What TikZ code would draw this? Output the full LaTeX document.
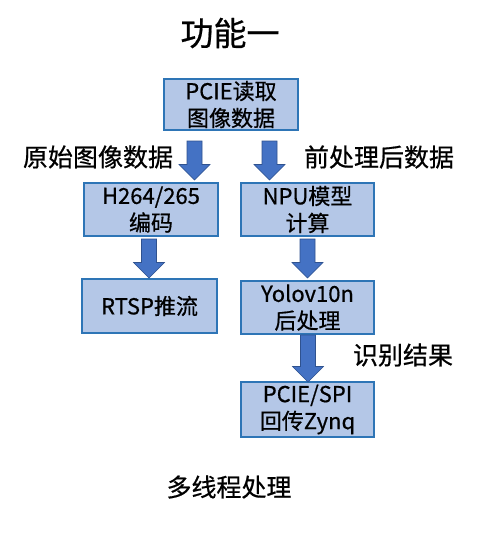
\documentclass[tikz,border=0pt]{standalone}
\usepackage{fontspec}
\setmainfont{Noto Sans CJK SC}[BoldFont=Noto Sans CJK SC, BoldFeatures={FakeBold=0.6}]
\definecolor{boxfill}{HTML}{B4C7E7}
\definecolor{boxline}{HTML}{2E75B6}
\definecolor{arrfill}{HTML}{4472C4}
\definecolor{arrline}{HTML}{2F528F}
\tikzset{
  procbox/.style={draw=boxline, line width=2.5pt, fill=boxfill, inner sep=0pt,
    align=center, font=\fontsize{22}{27}\selectfont\bfseries},
  lbl/.style={font=\fontsize{25}{30}\selectfont\bfseries, inner sep=0pt},
  barrow/.style={fill=arrfill, draw=arrline, line width=0.6pt, line join=miter}
}
\newcommand{\blockarr}[3]{% x, top y, tip y
  \draw[barrow] (#1-7.5,#2) -- (#1+7.5,#2) -- (#1+7.5,#3-15.5) -- (#1+15.5,#3-15.5)
    -- (#1,#3) -- (#1-15.5,#3-15.5) -- (#1-7.5,#3-15.5) -- cycle;}
\begin{document}
\begin{tikzpicture}[x=1pt,y=-1pt]
\useasboundingbox (0,0) rectangle (487,533);
\fill[white] (0,0) rectangle (487,533);

\node[font=\fontsize{33}{36}\selectfont\bfseries, inner sep=0pt] (title) at (230,33) {功能一};

\node[procbox, minimum width=134pt, minimum height=51pt] (pcie) at (231,104.5) {PCIE读取\\图像数据};
\node[procbox, minimum width=134pt, minimum height=53pt] (enc) at (151,209.5) {H264/265\\编码};
\node[procbox, minimum width=133pt, minimum height=53pt] (npu) at (307.5,209.5) {NPU模型\\计算};
\node[procbox, minimum width=135pt, minimum height=54pt] (rtsp) at (149.5,306) {RTSP推流};
\node[procbox, minimum width=133pt, minimum height=53pt] (yolo) at (307.5,307.5) {Yolov10n\\后处理};
\node[procbox, minimum width=133pt, minimum height=55pt] (back) at (307.5,409.5) {PCIE/SPI\\回传Zynq};

\node[lbl] (raw) at (98,157) {原始图像数据};
\node[lbl] (pre) at (379,157) {前处理后数据};
\node[lbl] (res) at (403,355) {识别结果};
\node[lbl] (multi) at (229,487) {多线程处理};

\blockarr{194.5}{141}{180}
\blockarr{269.5}{141}{180}
\blockarr{149}{239}{278}
\blockarr{307.5}{239}{278}
\blockarr{308}{335}{382}
\end{tikzpicture}
\end{document}
